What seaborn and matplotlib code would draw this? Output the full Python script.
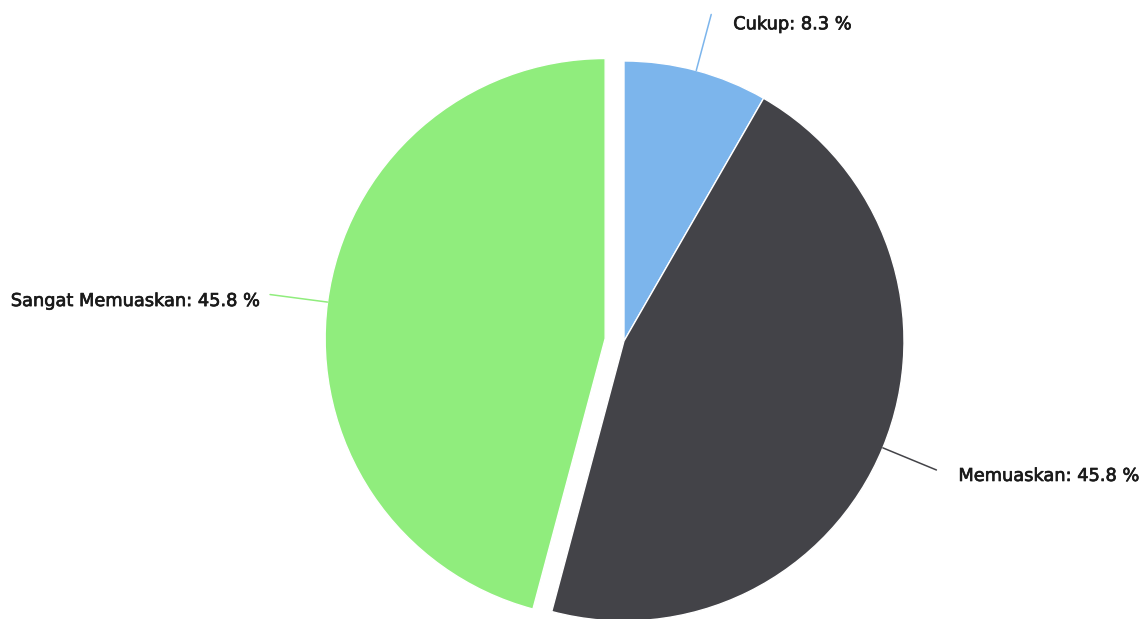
import numpy as np
import matplotlib
matplotlib.use("Agg")
import matplotlib.pyplot as plt
import matplotlib.patheffects as pe
import seaborn as sns

# ---- data ----
categories = ["Cukup", "Memuaskan", "Sangat Memuaskan"]
values = [8.3, 45.8, 45.8]
colors = ["#7cb5ec", "#434348", "#90ed7d"]
sliced = [False, False, True]

sns.set_theme(style="white")
plt.rcParams["font.family"] = ["DejaVu Sans"]

W, H = 1148, 619
fig = plt.figure(figsize=(W / 100, H / 100), dpi=100)
ax = fig.add_axes([0, 0, 1, 1])

cx, cy, R = 624, H - 341, 280
explode_px = 19
explode = [explode_px if s else 0 for s in sliced]

wedges, _ = ax.pie(values, colors=colors, startangle=90, counterclock=False,
                   radius=R, center=(cx, cy), explode=explode,
                   wedgeprops=dict(edgecolor="white", linewidth=1))
ax.set_xlim(0, W)
ax.set_ylim(0, H)
ax.set_aspect("equal")
ax.axis("off")

total = sum(values)
cum = 0.0
for cat, v, col, w, ex in zip(categories, values, colors, wedges, explode):
    mid = 90 - (cum + v / 2) / total * 360
    cum += v
    a = np.deg2rad(mid)
    d = np.array([np.cos(a), np.sin(a)])
    c = np.array([cx, cy]) + d * ex
    p_edge = c + d * R
    p_end = c + d * (R + 58)
    right = d[0] >= 0
    tx = p_end[0] + (22 if right else -10)
    ty = p_end[1] - 6 - 4 * max(d[1], 0)
    ax.plot([p_edge[0], p_end[0]], [p_edge[1], p_end[1]], color=col, lw=1.1)
    ax.text(tx, ty, f"{cat}: {v} %", ha="left" if right else "right",
            va="center", fontsize=12.8, color="#1a1a1a",
            path_effects=[pe.withStroke(linewidth=0.5, foreground="#1a1a1a")])

fig.savefig("out.png", dpi=100)
